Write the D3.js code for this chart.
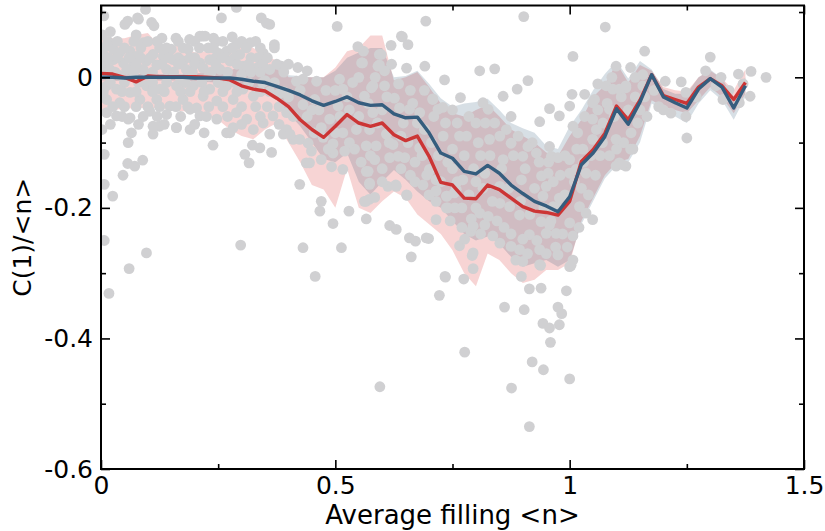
<!DOCTYPE html>
<html><head><meta charset="utf-8">
<script src="https://cdn.jsdelivr.net/npm/d3@7"></script>
<style>body{margin:0;background:#fff}svg{display:block}text{font-family:"DejaVu Sans",sans-serif}</style>
</head><body><svg id="c" width="825" height="531"></svg>
<script>
// ---- data ----
const fillGrid = [0,0.025,0.05,0.075,0.1,0.125,0.15,0.175,0.2,0.225,0.25,0.275,0.3,0.325,0.35,0.375,0.4,0.425,0.45,0.475,0.5,0.525,0.55,0.575,0.6,0.625,0.65,0.675,0.7,0.725,0.75,0.775,0.8,0.825,0.85,0.875,0.9,0.925,0.95,0.975,1.0,1.025,1.05,1.075,1.1,1.125,1.15,1.175,1.2,1.225,1.25,1.275,1.3,1.325,1.35,1.375];
const redMean = [0.006,0.005,0.0,-0.007,0.002,0.001,0.001,0.001,0.001,0.0,-0.001,-0.004,-0.013,-0.018,-0.021,-0.032,-0.045,-0.065,-0.08,-0.092,-0.075,-0.057,-0.07,-0.075,-0.07,-0.088,-0.097,-0.09,-0.121,-0.161,-0.165,-0.185,-0.186,-0.165,-0.172,-0.185,-0.198,-0.205,-0.207,-0.211,-0.19,-0.129,-0.111,-0.086,-0.044,-0.065,-0.035,0.004,-0.028,-0.034,-0.04,-0.015,-0.002,-0.013,-0.034,-0.008];
const redHi = [0.063,0.06,0.06,0.065,0.068,0.048,0.048,0.048,0.038,0.04,0.04,0.05,0.055,0.045,0.035,0.025,0.0,0.0,0.0,0.0,0.015,0.04,0.045,0.064,0.064,-0.005,0.0,0.008,-0.015,-0.04,-0.055,-0.06,-0.05,-0.042,-0.06,-0.08,-0.09,-0.1,-0.115,-0.121,-0.09,-0.065,-0.03,-0.012,0.022,-0.008,0.019,0.01,-0.015,-0.02,-0.022,0.0,0.01,-0.002,-0.02,0.012];
const redLo = [-0.05,-0.05,-0.048,-0.047,-0.047,-0.047,-0.05,-0.052,-0.054,-0.06,-0.065,-0.08,-0.09,-0.095,-0.08,-0.07,-0.1,-0.13,-0.165,-0.172,-0.2,-0.14,-0.2,-0.208,-0.19,-0.175,-0.185,-0.21,-0.225,-0.24,-0.265,-0.3,-0.32,-0.27,-0.28,-0.3,-0.315,-0.31,-0.295,-0.295,-0.285,-0.22,-0.185,-0.15,-0.13,-0.125,-0.09,-0.035,-0.045,-0.05,-0.055,-0.035,-0.015,-0.03,-0.055,-0.025];
const blueMean = [0.0,0.0,-0.001,0.0,0.0,0.0,0.0,0.0,-0.001,-0.001,-0.001,-0.001,-0.003,-0.006,-0.008,-0.014,-0.02,-0.027,-0.036,-0.043,-0.037,-0.03,-0.039,-0.043,-0.042,-0.056,-0.062,-0.061,-0.085,-0.116,-0.124,-0.144,-0.148,-0.135,-0.147,-0.165,-0.178,-0.19,-0.197,-0.206,-0.183,-0.134,-0.116,-0.091,-0.048,-0.072,-0.038,0.004,-0.03,-0.039,-0.047,-0.018,-0.002,-0.015,-0.047,-0.013];
const blueHi = [0.005,0.005,0.005,0.005,0.005,0.005,0.005,0.005,0.006,0.007,0.008,0.01,0.018,0.02,0.02,0.015,0.003,0.002,0.0,0.0,0.01,0.03,0.038,0.045,0.045,0.0,0.002,0.01,-0.01,-0.032,-0.045,-0.04,-0.038,-0.033,-0.05,-0.07,-0.078,-0.085,-0.105,-0.11,-0.075,-0.05,-0.02,0.005,0.025,-0.002,0.025,0.012,-0.018,-0.025,-0.025,0.0,0.012,-0.002,-0.03,0.0];
const blueLo = [-0.005,-0.005,-0.006,-0.005,-0.005,-0.005,-0.005,-0.005,-0.006,-0.007,-0.008,-0.01,-0.015,-0.02,-0.025,-0.035,-0.055,-0.075,-0.1,-0.125,-0.13,-0.116,-0.16,-0.18,-0.16,-0.142,-0.157,-0.175,-0.19,-0.2,-0.22,-0.24,-0.25,-0.244,-0.255,-0.275,-0.29,-0.285,-0.28,-0.29,-0.28,-0.225,-0.19,-0.155,-0.135,-0.13,-0.1,-0.04,-0.05,-0.06,-0.07,-0.04,-0.02,-0.035,-0.065,-0.03];
const samples = [
[0.017,-0.331],[0.06,-0.293],[0.457,-0.305],[0.595,-0.474],
[0.735,-0.306],[0.774,-0.309],[0.722,-0.334],[0.794,-0.293],[0.861,-0.352],[0.903,-0.356],[0.914,-0.324],[0.939,-0.323],[0.993,-0.327],[0.975,-0.352],[0.983,-0.362],[0.943,-0.377],[0.957,-0.384],[0.978,-0.379],[0.959,-0.406],[0.776,-0.421],[0.92,-0.436],[0.944,-0.448],[1.0,-0.462],[0.876,-0.476],[0.914,-0.535],[0.9,-0.282],[0.938,-0.288],[1.003,-0.288],[1.007,-0.28],
[0.007,-0.118],[0.007,-0.164],[0.058,-0.1],[0.057,-0.132],[0.072,-0.136],[0.089,-0.127],[0.047,-0.15],[0.025,-0.182],[0.007,-0.25],[0.097,-0.269],[0.111,-0.087],[0.125,-0.075],[0.161,-0.077],[0.239,-0.104],[0.307,-0.118],[0.316,-0.131],[0.323,-0.104],[0.339,-0.108],[0.364,-0.115],[0.275,-0.085],[0.298,-0.257],[0.424,-0.164],[0.431,-0.261],[0.47,-0.19],[0.467,-0.205],[0.495,-0.224],[0.513,-0.261],[0.529,-0.205],[0.566,-0.217],[0.572,-0.187],[0.616,-0.227],[0.63,-0.233],[0.658,-0.246],
[0.565,-0.19],[0.584,-0.184],[0.573,-0.164],[0.629,-0.165],[0.653,-0.181],[0.662,-0.275],[0.671,-0.251],[0.699,-0.247],[0.715,-0.218],[0.734,-0.305],[0.792,-0.273],[0.765,-0.258],[0.776,-0.248],[0.789,-0.236],[0.79,-0.217],[0.74,-0.2],[0.738,-0.182],[0.754,-0.177],[0.715,-0.174],[0.687,-0.165],[0.7,-0.144],[0.694,-0.246],
[0.504,0.078],[0.548,0.047],[0.619,0.049],[0.643,0.062],[0.655,0.05],[0.691,0.017],[0.652,0.014],[0.733,-0.004],[0.767,-0.031],[0.594,0.035],[0.591,0.017],[0.558,0.022],[0.693,0.086],[0.808,0.01],
[0.006,0.094],[0.051,0.081],[0.057,0.086],[0.078,0.091],[0.095,0.104],[0.108,0.084],[0.113,0.079],[0.257,0.091],[0.289,0.107],[0.342,0.091],[0.36,0.081],[0.189,0.058],[0.216,0.063],[0.641,0.063],
[0.902,0.093],[1.076,0.077],[1.16,0.04],[1.3,0.031],[1.419,0.0],[1.387,0.009],[1.385,-0.029],[1.25,-0.093],[1.007,0.032],[0.84,0.013],[0.858,-0.029],[0.888,-0.018],[0.911,-0.005],[0.936,-0.068],[0.957,-0.048],[0.978,-0.059],[1.005,-0.026],[1.0,-0.044],[1.032,-0.026],[1.053,-0.034],[0.875,-0.06],[1.099,0.017],[1.12,-0.016],[1.204,-0.006],[1.238,-0.007],[1.323,0.0],[1.327,-0.034],
[1.049,-0.218],[1.12,-0.136],[1.106,-0.131],[1.135,-0.11],
[1.248,-0.023],[1.362,-0.039],[1.312,-0.013],[1.216,-0.055],[1.156,-0.013],[1.248,-0.06],
[0.08,0.089],[0.353,0.083],[0.211,0.063],[0.222,0.063],[0.318,0.053],[0.289,0.05],[0.09,0.053],[0.012,0.048],[0.026,0.043],[0.04,0.038],[0.062,0.04],[0.076,0.032],[0.111,0.035],[0.133,0.032],[0.15,0.043],[0.186,0.043],[0.229,0.045],[0.25,0.037],[0.268,0.04],[0.296,0.035],[0.346,0.037],[0.385,0.017],[0.36,0.012],[0.332,0.014],[0.303,0.017],[0.275,0.025],[0.232,0.027],[0.211,0.022],[0.175,0.025],[0.154,0.027],[0.119,0.019],[0.097,0.025],[0.069,0.017],[0.048,0.022],[0.026,0.027],[0.009,0.022],[0.019,0.012],[0.055,0.012],[0.09,0.012],[0.14,0.012],[0.182,0.012],[0.218,0.014],[0.254,0.012],
[0.012,-0.013],[0.033,-0.018],[0.062,-0.023],[0.097,-0.013],[0.126,-0.018],[0.161,-0.013],[0.197,-0.013],[0.232,-0.018],[0.268,-0.013],[0.303,-0.018],[0.325,-0.029],[0.012,-0.034],[0.04,-0.039],[0.083,-0.034],[0.119,-0.034],[0.147,-0.044],[0.175,-0.034],[0.218,-0.029],[0.247,-0.036],[0.282,-0.034],[0.012,-0.054],[0.033,-0.059],[0.062,-0.062],[0.104,-0.052],[0.14,-0.057],[0.19,-0.049],[0.204,-0.047],[0.211,-0.059],[0.247,-0.064],[0.289,-0.054],[0.311,-0.064],[0.268,-0.085],[0.282,-0.077],[0.346,-0.07],[0.367,-0.059],[0.396,-0.054],[0.396,-0.08],[0.36,-0.087],[0.325,-0.08],[0.111,-0.075],[0.161,-0.077],[0.058,-0.064],
[0.04,0.003],[0.1,0.005],[0.17,-0.003],[0.23,0.002],[0.3,0.004],[0.35,-0.005],[0.005,0.035],[0.003,0.065],[0.002,-0.08],[0.003,-0.025],[0.02,0.07],[0.13,0.06],[0.16,0.06],[0.24,0.06],[0.065,-0.085],[0.19,-0.08],[0.22,-0.085],[0.075,0.065],[0.28,0.062],[0.335,0.03],[0.37,0.05],[0.38,-0.025],[0.4,-0.03],[0.42,0.015],[0.41,-0.06],[0.45,-0.05],[0.44,0.01],
[0.015,0.055],[0.035,0.055],[0.07,0.055],[0.1,0.055],[0.12,0.055],[0.165,0.055],[0.2,0.055],[0.245,0.055],[0.26,0.055],[0.3,0.055],[0.33,0.055],
[0.005,0.045],[0.05,0.045],[0.085,0.045],[0.125,0.045],[0.14,0.045],[0.175,0.045],[0.21,0.045],[0.24,0.045],[0.28,0.045],[0.31,0.045],[0.34,0.045],[0.37,0.045],
[0.015,0.03],[0.035,0.03],[0.06,0.03],[0.085,0.03],[0.105,0.03],[0.145,0.03],[0.165,0.03],[0.19,0.03],[0.2,0.03],[0.245,0.03],[0.26,0.03],[0.285,0.03],[0.32,0.03],[0.355,0.03],
[0.075,0.02],[0.13,0.02],[0.165,0.02],[0.2,0.02],[0.245,0.02],[0.29,0.02],[0.315,0.02],[0.345,0.02],[0.375,0.02],[0.4,0.02],
[0.005,0.008],[0.03,0.008],[0.07,0.008],[0.11,0.008],[0.155,0.008],[0.195,0.008],[0.235,0.008],[0.27,0.008],[0.32,0.008],[0.34,0.008],[0.39,0.008],
[0.02,-0.008],[0.05,-0.008],[0.08,-0.008],[0.11,-0.008],[0.14,-0.008],[0.18,-0.008],[0.215,-0.008],[0.25,-0.008],[0.285,-0.008],[0.315,-0.008],[0.345,-0.008],[0.37,-0.008],
[0.005,-0.022],[0.045,-0.022],[0.075,-0.022],[0.11,-0.022],[0.135,-0.022],[0.17,-0.022],[0.19,-0.022],[0.22,-0.022],[0.26,-0.022],[0.29,-0.022],[0.34,-0.022],[0.36,-0.022],[0.39,-0.022],
[0.025,-0.045],[0.05,-0.045],[0.075,-0.045],[0.1,-0.045],[0.125,-0.045],[0.16,-0.045],[0.185,-0.045],[0.23,-0.045],[0.26,-0.045],[0.3,-0.045],[0.33,-0.045],[0.355,-0.045],[0.38,-0.045],
[0.045,-0.06],[0.09,-0.06],[0.12,-0.06],[0.17,-0.06],[0.225,-0.06],[0.27,-0.06],[0.34,-0.06],
[0.02,-0.072],[0.08,-0.072],[0.135,-0.072],[0.2,-0.072],[0.3,-0.072],[0.38,-0.072],
[0.389,-0.087],[0.41,-0.095],[0.449,-0.113],[0.495,-0.116],[0.57,-0.144],[0.516,-0.141],[0.612,-0.167],[0.438,-0.131],
[0.417,-0.006],[0.431,-0.003],[0.46,-0.006],[0.509,-0.003],[0.516,-0.018],[0.537,-0.008],[0.58,-0.013],[0.605,-0.013],[0.594,0.019],[0.556,0.022],[0.598,0.035],[0.626,-0.032],[0.637,-0.047],[0.658,-0.049],[0.68,-0.054],[0.708,-0.034],[0.719,-0.049],[0.431,-0.042],[0.456,-0.034],[0.506,-0.044],[0.488,-0.064],[0.47,-0.077],[0.474,-0.092],[0.495,-0.102],[0.516,-0.085],[0.52,-0.113],[0.541,-0.11],[0.566,-0.105],[0.573,-0.08],[0.587,-0.105],[0.584,-0.126],[0.566,-0.144],[0.616,-0.123],[0.623,-0.103],[0.634,-0.121],[0.648,-0.123],[0.609,-0.087],[0.68,-0.108],[0.701,-0.141],[0.715,-0.157],[0.737,-0.182],[0.758,-0.172],[0.772,-0.157],[0.737,-0.2],[0.652,-0.18],[0.63,-0.167],[0.445,-0.131],[0.47,-0.126],[0.492,-0.137],[0.573,-0.162],[0.562,-0.19],[0.424,-0.095],[0.442,-0.101],[0.403,-0.087],[0.545,-0.08],[0.58,-0.054],[0.562,-0.029],[0.577,-0.016],
[0.66,-0.02],[0.69,-0.08],[0.73,-0.09],[0.75,-0.11],[0.76,-0.07],[0.78,-0.09],[0.7,-0.18],[0.66,-0.15],[0.64,-0.09],[0.6,-0.05],[0.53,-0.05],[0.5,-0.02],[0.62,0.02],[0.67,-0.13],[0.72,-0.12],[0.75,-0.14],[0.77,-0.2],[0.8,-0.16],[0.81,-0.12],
[0.425,-0.02],[0.44,-0.06],[0.455,-0.085],[0.465,-0.05],[0.48,-0.02],[0.485,-0.11],[0.5,-0.085],[0.51,-0.06],[0.525,-0.03],[0.53,-0.1],
[0.55,0.0],[0.55,-0.06],[0.555,-0.13],[0.56,0.04],[0.57,-0.04],[0.575,-0.12],[0.585,0.0],[0.59,-0.07],[0.6,-0.14],[0.605,0.01],[0.61,-0.03],[0.615,-0.1],[0.6,-0.16],
[0.635,-0.01],[0.64,-0.14],[0.645,-0.07],[0.655,-0.1],[0.665,-0.04],[0.67,-0.16],[0.675,-0.07],[0.685,-0.12],[0.69,-0.02],[0.695,-0.15],[0.705,-0.1],[0.71,-0.06],[0.715,-0.19],[0.725,-0.16],
[0.735,-0.07],[0.74,-0.13],[0.745,-0.22],[0.75,-0.05],[0.755,-0.2],[0.76,-0.16],[0.765,-0.09],[0.77,-0.23],[0.775,-0.12],[0.785,-0.18],[0.785,-0.06],[0.795,-0.14],[0.8,-0.2],[0.805,-0.1],[0.81,-0.24],[0.815,-0.17],[0.82,-0.07],
[0.83,-0.12],[0.835,-0.19],[0.84,-0.07],[0.845,-0.22],[0.855,-0.14],[0.86,-0.23],[0.865,-0.08],[0.87,-0.17],[0.875,-0.24],[0.88,-0.12],[0.885,-0.28],[0.89,-0.09],[0.895,-0.19],[0.905,-0.14],[0.91,-0.27],[0.915,-0.21],[0.92,-0.1],
[0.925,-0.17],[0.93,-0.25],[0.935,-0.13],[0.945,-0.2],[0.95,-0.27],[0.955,-0.13],[0.96,-0.22],[0.965,-0.16],[0.97,-0.26],[0.975,-0.2],[0.98,-0.15],[0.985,-0.24],[0.99,-0.12],[0.99,-0.18],[0.995,-0.26],
[1.01,-0.16],[1.015,-0.11],[1.02,-0.23],[1.025,-0.17],[1.03,-0.13],[1.04,-0.18],[1.045,-0.12],[1.055,-0.15],[1.06,-0.05],[1.065,-0.12],[1.07,-0.1],[1.08,-0.04],[1.085,-0.12],[1.095,-0.06],[1.1,-0.11],[1.11,-0.03],[1.115,-0.1],[1.125,-0.05],[1.13,-0.11],[1.14,-0.03],[1.145,-0.07],[1.15,-0.05],[1.16,-0.03],[1.165,-0.06],
[0.8,-0.07],[0.829,-0.095],[0.851,-0.09],[0.875,-0.101],[0.9,-0.121],[0.911,-0.106],[0.929,-0.116],[0.94,-0.151],[0.954,-0.147],[0.961,-0.121],[0.975,-0.123],[0.95,-0.167],[0.943,-0.182],[0.978,-0.185],[0.965,-0.198],[0.939,-0.221],[0.957,-0.226],[0.971,-0.239],[0.95,-0.239],[0.936,-0.264],[0.914,-0.241],[0.9,-0.248],[0.893,-0.264],[0.875,-0.259],[0.851,-0.254],[0.836,-0.243],[0.819,-0.226],[0.808,-0.208],[0.826,-0.213],[0.851,-0.193],[0.872,-0.198],[0.893,-0.211],[0.794,-0.228],[0.794,-0.269],[0.936,-0.287],[0.975,-0.272],[1.0,-0.29],[0.897,-0.305],[0.819,-0.147],[0.858,-0.126],[0.897,-0.157],[0.851,-0.167],[1.0,-0.147],[1.0,-0.126],[1.014,-0.141],[1.035,-0.147],[1.021,-0.198],[1.035,-0.208],[1.0,-0.223],[1.007,-0.243],[1.028,-0.11],[1.049,-0.095],[1.057,-0.08],[1.017,-0.085],[1.007,-0.075],[1.032,-0.06],[1.049,-0.064],[1.049,-0.039],[1.078,-0.013],[1.092,-0.018],[1.106,-0.018],[1.12,-0.013],[1.156,0.004],[1.071,-0.07],[1.085,-0.049],[1.099,-0.136],[1.113,-0.134],[1.131,-0.085],[1.099,-0.095],[0.815,-0.039],[0.826,-0.049],[0.957,-0.106],
[1.14,0.0],[1.13,0.015],[1.18,-0.02],[1.19,-0.045],[1.06,-0.01],[1.09,0.0],[1.2,-0.05],[1.27,-0.03],[1.29,0.01],[1.34,-0.02],[1.37,-0.01],[1.36,0.005],[0.708,-0.033],[0.729,-0.046]
];
const xTicks = [0,0.5,1,1.5];
const xTickLabels = ["0","0.5","1","1.5"];
const xMinor = [0.25,0.75,1.25];
const yTicks = [0,-0.2,-0.4,-0.6];
const yTickLabels = ["0","-0.2","-0.4","-0.6"];
const yMinor = [0.1,-0.1,-0.3,-0.5];

// ---- layout ----
const L=101, R=804, T=5.5, B=469;
const svg = d3.select("#c");
const x = d3.scaleLinear().domain([0,1.5]).range([L,R]);
const y = d3.scaleLinear().domain([-0.6,0.11]).range([B,T]);

svg.append("defs").append("clipPath").attr("id","clip")
  .append("rect").attr("x",L).attr("y",T).attr("width",R-L).attr("height",B-T);
const plot = svg.append("g").attr("clip-path","url(#clip)");

const idx = d3.range(fillGrid.length);
const area = (lo,hi) => d3.area().x(i=>x(fillGrid[i])).y0(i=>y(lo[i])).y1(i=>y(hi[i]));
plot.append("path").datum(idx).attr("d",area(redLo,redHi)).attr("fill","rgb(214,39,40)").attr("fill-opacity",0.2);
plot.append("path").datum(idx).attr("d",area(blueLo,blueHi)).attr("fill","rgb(53,93,126)").attr("fill-opacity",0.2);

plot.selectAll("circle.pt").data(samples).enter().append("circle")
  .attr("class","pt").attr("cx",d=>x(d[0])).attr("cy",d=>y(d[1])).attr("r",5.4)
  .attr("fill","#d0d0d2");

const line = m => d3.line().x(i=>x(fillGrid[i])).y(i=>y(m[i]));
plot.append("path").datum(idx).attr("d",line(redMean)).attr("fill","none")
  .attr("stroke","#cc3535").attr("stroke-width",3.4).attr("stroke-linejoin","round");
plot.append("path").datum(idx).attr("d",line(blueMean)).attr("fill","none")
  .attr("stroke","#355d7e").attr("stroke-width",3.4).attr("stroke-linejoin","round");

// ---- axes ----
function styleAxis(g){ g.select(".domain").remove(); g.selectAll("line").attr("stroke","#000").attr("stroke-width",1.6); g.selectAll("text").attr("font-size",25).attr("fill","#000").attr("font-family","DejaVu Sans"); }
svg.append("g").attr("transform",`translate(0,${B})`)
  .call(d3.axisBottom(x).tickValues(xTicks).tickSize(-9).tickPadding(7).tickFormat((d,i)=>xTickLabels[i])).call(styleAxis);
svg.append("g").attr("transform",`translate(0,${B})`)
  .call(d3.axisBottom(x).tickValues(xMinor).tickSize(-5).tickFormat("")).call(styleAxis);
svg.append("g").attr("transform",`translate(0,${T})`)
  .call(d3.axisTop(x).tickValues(xTicks).tickSize(-9).tickFormat("")).call(styleAxis);
svg.append("g").attr("transform",`translate(0,${T})`)
  .call(d3.axisTop(x).tickValues(xMinor).tickSize(-5).tickFormat("")).call(styleAxis);
svg.append("g").attr("transform",`translate(${L},0)`)
  .call(d3.axisLeft(y).tickValues(yTicks).tickSize(-9).tickPadding(8).tickFormat((d,i)=>yTickLabels[i])).call(styleAxis);
svg.append("g").attr("transform",`translate(${L},0)`)
  .call(d3.axisLeft(y).tickValues(yMinor).tickSize(-5).tickFormat("")).call(styleAxis);
svg.append("g").attr("transform",`translate(${R},0)`)
  .call(d3.axisRight(y).tickValues(yTicks).tickSize(-9).tickFormat("")).call(styleAxis);
svg.append("g").attr("transform",`translate(${R},0)`)
  .call(d3.axisRight(y).tickValues(yMinor).tickSize(-5).tickFormat("")).call(styleAxis);

svg.append("rect").attr("x",L).attr("y",T).attr("width",R-L).attr("height",B-T)
  .attr("fill","none").attr("stroke","#000").attr("stroke-width",2);

svg.append("text").attr("x",(L+R)/2).attr("y",524).attr("text-anchor","middle")
  .attr("font-size",26).text("Average filling <n>");
svg.append("text").attr("transform",`translate(31,${(T+B)/2}) rotate(-90)`).attr("text-anchor","middle")
  .attr("font-size",25).text("C(1)/<n>");
</script></body></html>
